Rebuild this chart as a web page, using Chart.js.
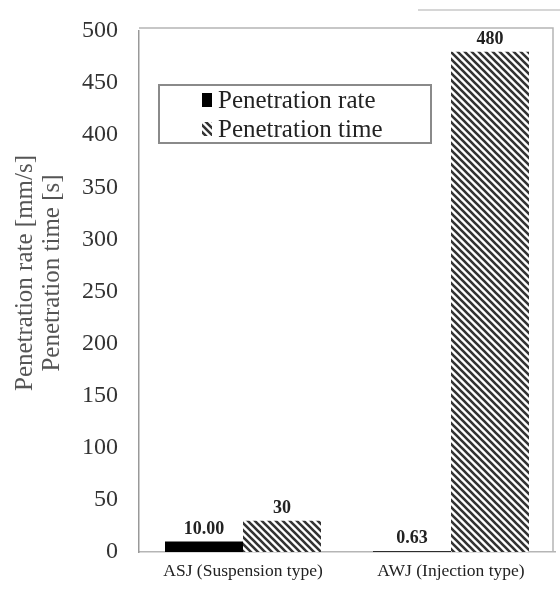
<!DOCTYPE html>
<html><head><meta charset="utf-8">
<script src="https://cdn.jsdelivr.net/npm/chart.js@4"></script>
<style>html,body{margin:0;padding:0;background:#fff}#wrap{width:560px;height:589px;position:relative}</style>
</head><body><div id="wrap"><canvas id="c" width="560" height="589"></canvas></div>
<script>
const categories = ["ASJ (Suspension type)", "AWJ (Injection type)"];
const rateValues = [10.00, 0.63];
const timeValues = [30, 480];
const seriesNames = ["Penetration rate", "Penetration time"];
const yTitle = ["Penetration rate [mm/s]", "Penetration time [s]"];
const yTicks = [0, 50, 100, 150, 200, 250, 300, 350, 400, 450, 500];

function hatch(){
  const s = 7, c = document.createElement('canvas');
  c.width = s; c.height = s;
  const g = c.getContext('2d');
  g.fillStyle = '#fff'; g.fillRect(0,0,s,s);
  g.strokeStyle = '#333'; g.lineWidth = 2.6;
  g.beginPath();
  for (let k=-1;k<=1;k++){ g.moveTo(k*s - 1, -1); g.lineTo(k*s + s + 1, s + 1); }
  g.stroke();
  return g.createPattern(c,'repeat');
}
const hp = hatch();
const serif = "'Liberation Serif','Times New Roman',serif";

const frame = {
  id:'frame',
  afterDraw(chart){
    const {ctx, chartArea:a} = chart;
    ctx.save();
    ctx.strokeStyle = '#c8c8c8'; ctx.lineWidth = 1.5;
    ctx.beginPath(); ctx.moveTo(418, 10); ctx.lineTo(560, 10); ctx.stroke();
    ctx.strokeStyle = '#b5b5b5'; ctx.lineWidth = 1.5;
    ctx.beginPath();
    ctx.moveTo(a.left, a.top - 3); ctx.lineTo(a.right - 2, a.top - 3); ctx.lineTo(a.right - 2, a.bottom);
    ctx.stroke();
    ctx.fillStyle = '#555'; ctx.font = "25px " + serif; ctx.textAlign='center'; ctx.textBaseline='middle';
    yTitle.forEach((t,i)=>{
      ctx.save(); ctx.translate(25 + i*27, 273); ctx.rotate(-Math.PI/2); ctx.fillText(t, 0, 0); ctx.restore();
    });
    ctx.fillStyle = '#222'; ctx.font = "bold 18px " + serif; ctx.textAlign='center'; ctx.textBaseline='alphabetic';
    chart.data.datasets.forEach((ds,di)=>{
      chart.getDatasetMeta(di).data.forEach((el,i)=>{
        const v = ds.data[i];
        const t = di===0 ? v.toFixed(2) : String(Math.round(v));
        ctx.fillText(t, el.x, el.y - 8);
      });
    });
    const lx=159, ly=85, lw=272, lh=58;
    ctx.fillStyle='#fff'; ctx.fillRect(lx,ly,lw,lh);
    ctx.strokeStyle='#8a8a8a'; ctx.lineWidth=2; ctx.strokeRect(lx,ly,lw,lh);
    ctx.font = "25px " + serif; ctx.textAlign='left'; ctx.textBaseline='middle';
    chart.data.datasets.forEach((ds,di)=>{
      const y = ly + 15 + di*29;
      ctx.fillStyle = ds.backgroundColor;
      ctx.fillRect(202, y-7, 10, 14);
      ctx.fillStyle='#222'; ctx.fillText(ds.label, 218, y+1);
    });
    ctx.restore();
  }
};

new Chart(document.getElementById('c'), {
  type:'bar',
  data:{
    labels: categories,
    datasets:[
      {label: seriesNames[0], data: rateValues, backgroundColor:'#000', borderWidth:0},
      {label: seriesNames[1], data: timeValues, backgroundColor: hp, borderWidth:0}
    ]
  },
  options:{
    responsive:false, animation:false,
    layout:{padding:{left:0, right:5, top:31, bottom:0}},
    plugins:{legend:{display:false}, tooltip:{enabled:false}},
    datasets:{bar:{categoryPercentage:0.75, barPercentage:1}},
    scales:{
      x:{
        grid:{display:false, drawTicks:false},
        border:{display:true, color:'#b5b5b5', width:1.5},
        ticks:{color:'#222', font:{family:serif, size:17.5}, padding:9, maxRotation:0},
        afterFit(s){ s.height = 37; s.paddingLeft = 0; s.paddingRight = 0; }
      },
      y:{
        min:0, max:500,
        afterBuildTicks(s){ s.ticks = yTicks.map(v=>({value:v})); },
        grid:{display:false, drawTicks:false},
        border:{display:true, color:'#999', width:1.5},
        ticks:{color:'#333', font:{family:serif, size:24}, padding:21},
        title:{display:false},
        afterFit(s){ s.width = 139; s.paddingTop = 0; s.paddingBottom = 0; }
      }
    }
  },
  plugins:[frame]
});
</script></body></html>
